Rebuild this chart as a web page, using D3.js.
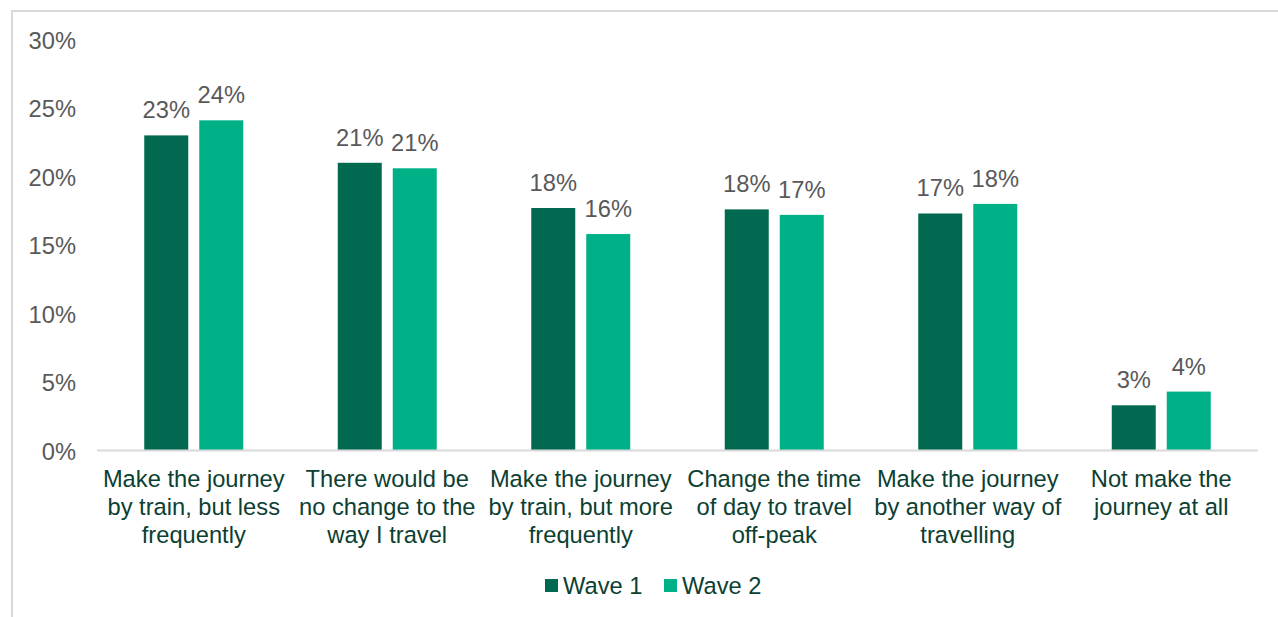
<!DOCTYPE html>
<html>
<head>
<meta charset="utf-8">
<script src="https://cdn.jsdelivr.net/npm/d3@7"></script>
<style>
  html, body { margin: 0; padding: 0; background: #fff; }
  svg { display: block; font-family: "Liberation Sans", Arial, sans-serif; }
</style>
</head>
<body>
<svg id="chart" width="1278" height="617"></svg>
<script>
// Survey responses by category, two waves (share of respondents)
const categories = [
  ["Make the journey", "by train, but less", "frequently"],
  ["There would be", "no change to the", "way I travel"],
  ["Make the journey", "by train, but more", "frequently"],
  ["Change the time", "of day to travel", "off-peak"],
  ["Make the journey", "by another way of", "travelling"],
  ["Not make the", "journey at all"]
];
const seriesNames = ["Wave 1", "Wave 2"];
const wave1 = [0.230, 0.210, 0.177, 0.176, 0.173, 0.033];
const wave2 = [0.241, 0.206, 0.158, 0.172, 0.180, 0.043];
const yTicks = [0, 0.05, 0.10, 0.15, 0.20, 0.25, 0.30];
const colors = ["#00694F", "#00B188"];

(function () {
  const svg = d3.select("#chart");
  const fontSize = 23.7;

  // outer frame
  svg.append("path")
    .attr("d", "M12,617 V11 H1278")
    .attr("fill", "none")
    .attr("stroke", "#d9d9d9")
    .attr("stroke-width", 2);

  const plotLeft = 97, plotRight = 1258, plotTop = 39.5, plotBottom = 450.5;

  const x = d3.scaleBand()
    .domain(d3.range(categories.length))
    .range([plotLeft, plotRight]);

  const y = d3.scaleLinear().domain([0, 0.30]).range([plotBottom, plotTop]);

  const inner = d3.scaleBand()
    .domain(seriesNames)
    .range([0, 99])
    .paddingInner(0.2);
  const barOffset = (x.bandwidth() - 99) / 2;

  const data = seriesNames.map((s, si) => (si === 0 ? wave1 : wave2).map((v, i) => ({ s, si, i, v })));

  // y axis tick labels
  const yAxis = d3.axisLeft(y).tickValues(yTicks).tickFormat(d3.format(".0%")).tickSize(0).tickPadding(0);
  const gy = svg.append("g").attr("transform", "translate(76,1)").call(yAxis);
  gy.select(".domain").remove();
  gy.selectAll("text")
    .attr("fill", "#595959")
    .attr("font-size", fontSize)
    .attr("font-family", "Liberation Sans, Arial, sans-serif");

  // bars
  const groups = svg.append("g").selectAll("g").data(data).join("g")
    .attr("fill", (d, i) => colors[i]);
  groups.selectAll("rect").data(d => d).join("rect")
    .attr("x", d => x(d.i) + barOffset + inner(d.s))
    .attr("y", d => y(d.v))
    .attr("width", inner.bandwidth())
    .attr("height", d => y(0) - y(d.v));

  // value labels
  const fmt = v => Math.round(v * 100) + "%";
  svg.append("g").selectAll("g").data(data).join("g")
    .selectAll("text").data(d => d).join("text")
    .attr("x", d => x(d.i) + barOffset + inner(d.s) + inner.bandwidth() / 2)
    .attr("y", d => y(d.v) - 17)
    .attr("text-anchor", "middle")
    .attr("fill", "#595959")
    .attr("font-size", fontSize)
    .text(d => fmt(d.v));

  // baseline
  svg.append("line")
    .attr("x1", plotLeft).attr("x2", plotRight)
    .attr("y1", y(0)).attr("y2", y(0))
    .attr("stroke", "#d9d9d9")
    .attr("stroke-width", 2);

  // category labels
  const catG = svg.append("g").selectAll("text").data(categories).join("text")
    .attr("x", (d, i) => x(i) + x.bandwidth() / 2)
    .attr("y", 487)
    .attr("text-anchor", "middle")
    .attr("fill", "#0C4032")
    .attr("font-size", fontSize);
  catG.selectAll("tspan").data(d => d).join("tspan")
    .attr("x", function () { return this.parentNode.getAttribute("x"); })
    .attr("dy", (d, j) => j === 0 ? 0 : 28)
    .text(d => d);

  // legend
  const legendItems = [
    { name: seriesNames[0], color: colors[0], x: 545 },
    { name: seriesNames[1], color: colors[1], x: 664 }
  ];
  const lg = svg.append("g").selectAll("g").data(legendItems).join("g")
    .attr("transform", d => `translate(${d.x},579)`);
  lg.append("rect").attr("width", 13).attr("height", 13).attr("fill", d => d.color);
  lg.append("text")
    .attr("x", 18).attr("y", 15)
    .attr("fill", "#0C4032")
    .attr("font-size", fontSize)
    .text(d => d.name);
})();
</script>
</body>
</html>
